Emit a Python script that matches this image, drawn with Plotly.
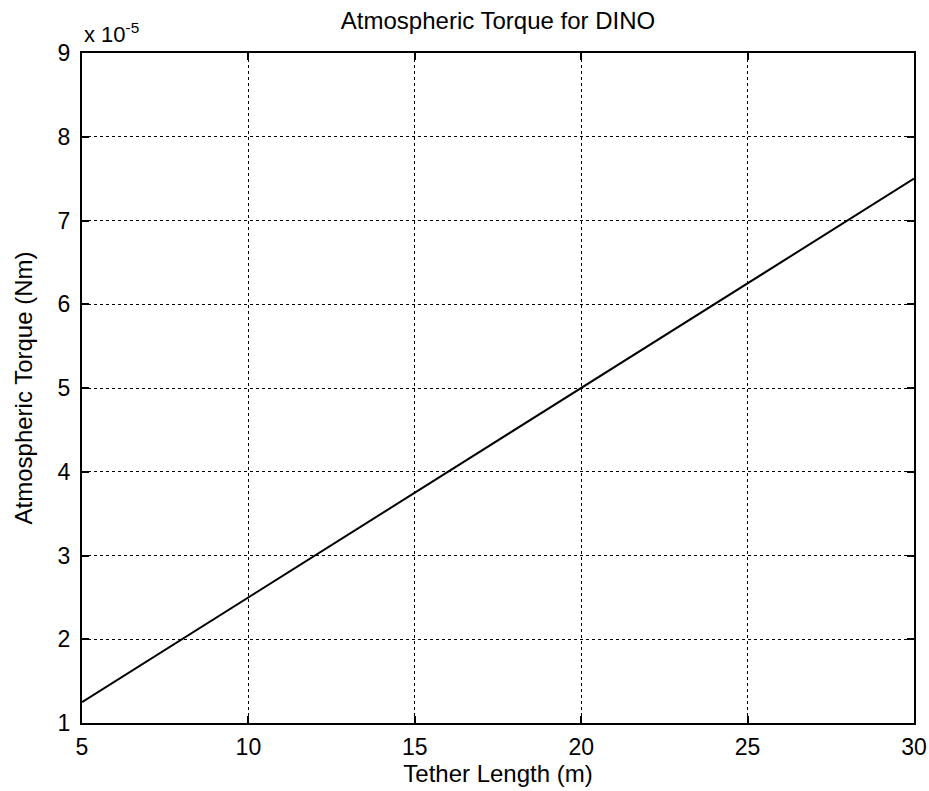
import plotly.graph_objects as go

# Tether length (m) and atmospheric torque (units of 1e-5 Nm)
tether_length = [5, 10, 15, 20, 25, 30]
torque_e5 = [1.25, 2.5, 3.75, 5.0, 6.25, 7.5]

x_ticks = [5, 10, 15, 20, 25, 30]
y_ticks = [1, 2, 3, 4, 5, 6, 7, 8, 9]

FONT = "Liberation Sans, Arial, sans-serif"

fig = go.Figure()
fig.add_trace(go.Scatter(
    x=tether_length, y=torque_e5, mode="lines",
    line=dict(color="black", width=2), showlegend=False,
))

axis_common = dict(
    showline=True, linecolor="black", linewidth=2, mirror="allticks",
    ticks="inside", ticklen=7, tickwidth=1.5, tickcolor="black",
    showgrid=True, gridcolor="black", griddash="dot", gridwidth=1,
    zeroline=False, automargin=False,
    tickfont=dict(family=FONT, size=23, color="black"),
)

fig.update_xaxes(
    range=[5, 30], tickvals=x_ticks, ticktext=[str(v) for v in x_ticks],
    title=dict(text="Tether Length (m)", font=dict(family=FONT, size=24, color="black"),
               standoff=7),
    ticklabelstandoff=2,
    **axis_common,
)
fig.update_yaxes(
    range=[1, 9], tickvals=y_ticks, ticktext=[str(v) for v in y_ticks],
    title=dict(text="Atmospheric Torque (Nm)", font=dict(family=FONT, size=24, color="black"),
               standoff=18),
    ticklabelstandoff=5,
    **axis_common,
)

fig.add_annotation(
    text="x 10<sup>-5</sup>", xref="paper", yref="paper", x=0, y=1,
    xanchor="left", yanchor="bottom", yshift=4, showarrow=False,
    font=dict(family=FONT, size=22, color="black"),
)

fig.update_layout(
    width=929, height=791,
    margin=dict(l=82, r=15, t=53, b=68, autoexpand=False),
    paper_bgcolor="white", plot_bgcolor="white",
    title=dict(text="Atmospheric Torque for DINO", xref="paper", x=0.5, xanchor="center",
               yref="container", y=0.985, yanchor="top",
               font=dict(family=FONT, size=24, color="black")),
)

fig.write_html("out.html")
